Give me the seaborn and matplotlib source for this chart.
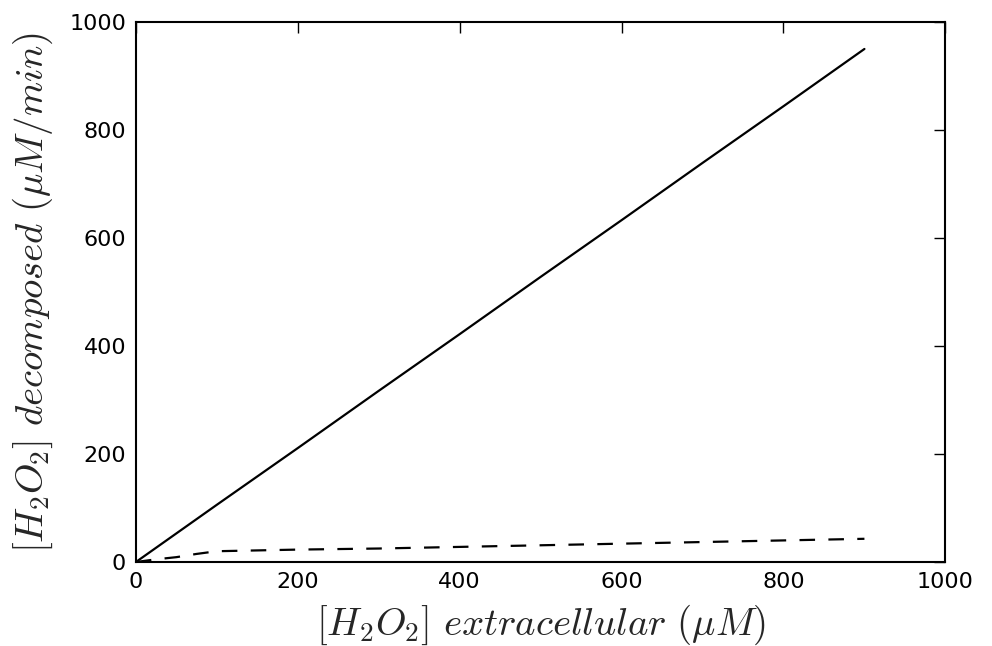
import numpy as np
import pandas as pd
import matplotlib
matplotlib.use("Agg")
import matplotlib.pyplot as plt
import seaborn as sns

sns.set_style("white")
plt.rcParams["font.family"] = ["DejaVu Sans"]
plt.rcParams["mathtext.fontset"] = "cm"

# values
x_total = [0, 100, 200, 300, 400, 500, 600, 700, 800, 900]
y_total = [0, 106, 211, 317, 422, 528, 633, 739, 844, 950]

x_low = [0, 10, 25, 50, 75, 100, 200, 300, 400, 500, 600, 700, 800, 900]
y_low = [0, 2, 5, 9, 15, 20, 23, 25, 28, 31, 34, 37, 40, 43]

df_total = pd.DataFrame({"x": x_total, "y": y_total})
df_low = pd.DataFrame({"x": x_low, "y": y_low})

fig, ax = plt.subplots(figsize=(9.92, 6.46), dpi=100)

sns.lineplot(data=df_total, x="x", y="y", color="black", linewidth=1.6, ax=ax)
sns.lineplot(data=df_low, x="x", y="y", color="black", linewidth=1.6,
             linestyle=(0, (7, 6)), ax=ax)

ax.set_xlim(0, 1000)
ax.set_ylim(0, 1000)
ax.set_xticks([0, 200, 400, 600, 800, 1000])
ax.set_yticks([0, 200, 400, 600, 800, 1000])

ax.set_xlabel(r"$[H_2O_2]\ extracellular\ (\mu M)$", fontsize=28, labelpad=8)
ax.set_ylabel(r"$[H_2O_2]\ decomposed\ (\mu M/min)$", fontsize=28, labelpad=10)

ax.tick_params(direction="in", length=8, width=1, top=True, right=True,
               labelsize=16, pad=7, colors="black")
for side in ax.spines.values():
    side.set_visible(True)
    side.set_color("black")
    side.set_linewidth(1.5)

fig.subplots_adjust(left=0.137, right=0.953, top=0.966, bottom=0.13)
fig.savefig("out.png", dpi=100, facecolor="white")
